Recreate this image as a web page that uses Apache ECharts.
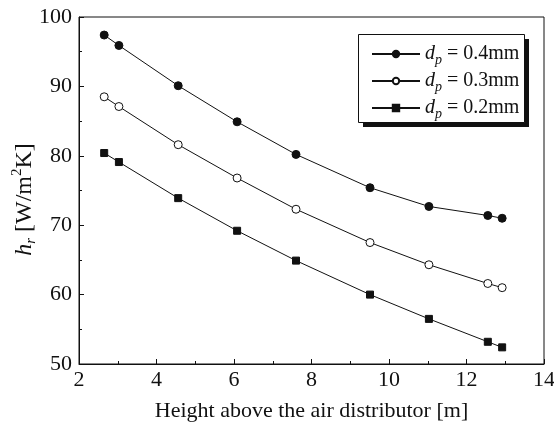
<!DOCTYPE html>
<html>
<head>
<meta charset="utf-8">
<script src="https://cdn.jsdelivr.net/npm/echarts@6/dist/echarts.min.js"></script>
<style>
  html, body { margin: 0; padding: 0; background: #fff; }
  #chart { width: 554px; height: 424px; }
</style>
</head>
<body>
<div id="chart"></div>
<script>
// Height above the air distributor [m]
const heights = [2.65, 3.03, 4.56, 6.08, 7.6, 9.51, 11.03, 12.55, 12.92];

// Heat transfer coefficient h_r [W/m2K] per particle diameter
const hr04 = [97.4, 95.9, 90.1, 84.9, 80.2, 75.4, 72.7, 71.4, 71.0];
const hr03 = [88.5, 87.1, 81.6, 76.8, 72.3, 67.5, 64.3, 61.6, 61.0];
const hr02 = [80.4, 79.1, 73.9, 69.2, 64.9, 60.0, 56.5, 53.2, 52.4];

const seriesNames = ['0.4mm', '0.3mm', '0.2mm'];

const FONT = 'Liberation Serif';
const INK = '#111';

function pairs(xs, ys) {
  return xs.map((x, i) => [x, ys[i]]);
}

const chart = echarts.init(document.getElementById('chart'), null, { renderer: 'canvas' });

const lineStyle = { color: INK, width: 1 };

chart.setOption({
  animation: false,
  backgroundColor: '#fff',
  textStyle: { fontFamily: FONT, color: INK },
  grid: {
    left: 79, right: 10, top: 17, bottom: 60,
    containLabel: false, outerBoundsMode: 'none',
    show: true, borderColor: INK, borderWidth: 1, backgroundColor: 'transparent'
  },
  // legend frame with its drop shadow
  graphic: [
    {
      type: 'rect', z: 3, silent: true,
      shape: { x: 363, y: 39, width: 166, height: 88 },
      style: { fill: INK }
    },
    {
      type: 'rect', z: 4, silent: true,
      shape: { x: 358.5, y: 34.5, width: 166, height: 88 },
      style: { fill: '#fff', stroke: INK, lineWidth: 1 }
    }
  ],
  legend: {
    orient: 'vertical',
    left: 358, top: 34, z: 6,
    padding: [7, 4, 4, 13],
    itemWidth: 48, itemHeight: 8, itemGap: 1,
    data: seriesNames,
    formatter: function (name) {
      return '{d|d}{p|p}{t| = ' + name + '}';
    },
    textStyle: {
      fontFamily: FONT, fontSize: 20, color: INK,
      rich: {
        d: { fontFamily: FONT, fontStyle: 'italic', fontSize: 20, color: INK, lineHeight: 14 },
        p: { fontFamily: FONT, fontStyle: 'italic', fontSize: 14, color: INK, padding: [12, 0, 0, 0], lineHeight: 14 },
        t: { fontFamily: FONT, fontSize: 20, color: INK, lineHeight: 14 }
      }
    }
  },
  xAxis: {
    type: 'value',
    min: 2, max: 14, interval: 2,
    name: 'Height above the air distributor [m]',
    nameLocation: 'middle', nameGap: 36,
    nameTextStyle: { fontFamily: FONT, fontSize: 22, color: INK },
    axisLine: { show: true, lineStyle: { color: INK, width: 1 } },
    axisTick: { show: true, inside: true, length: 5, lineStyle: { color: INK } },
    minorTick: { show: true, splitNumber: 2, length: 3, lineStyle: { color: INK } },
    splitLine: { show: false },
    axisLabel: { fontFamily: FONT, fontSize: 22, color: INK, margin: 5 }
  },
  yAxis: {
    type: 'value',
    min: 50, max: 100, interval: 10,
    name: '{h|h}{r|r}{t| [W/m}{s|2}{t|K]}',
    nameLocation: 'middle', nameGap: 46, nameRotate: 90,
    nameMoveOverlap: false,
    nameTextStyle: {
      fontFamily: FONT, fontSize: 24, color: INK,
      padding: [0, 18, 0, 0],
      rich: {
        h: { fontFamily: FONT, fontStyle: 'italic', fontSize: 24, color: INK, lineHeight: 16 },
        r: { fontFamily: FONT, fontStyle: 'italic', fontSize: 15, color: INK, padding: [13, 0, 0, 0], lineHeight: 14 },
        t: { fontFamily: FONT, fontSize: 24, color: INK, lineHeight: 16 },
        s: { fontFamily: FONT, fontSize: 15, color: INK, padding: [0, 0, 16, 0], lineHeight: 14 }
      }
    },
    axisLine: { show: true, lineStyle: { color: INK, width: 1 } },
    axisTick: { show: true, inside: true, length: 5, lineStyle: { color: INK } },
    minorTick: { show: true, splitNumber: 2, length: 3, lineStyle: { color: INK } },
    splitLine: { show: false },
    axisLabel: { fontFamily: FONT, fontSize: 22, color: INK, margin: 7 }
  },
  series: [
    {
      name: seriesNames[0], type: 'line',
      data: pairs(heights, hr04),
      symbol: 'circle', symbolSize: 8,
      lineStyle: lineStyle,
      itemStyle: { color: INK, borderColor: INK, borderWidth: 1 }
    },
    {
      name: seriesNames[1], type: 'line',
      data: pairs(heights, hr03),
      symbol: 'circle', symbolSize: 8,
      lineStyle: lineStyle,
      itemStyle: { color: '#fff', borderColor: INK, borderWidth: 1 }
    },
    {
      name: seriesNames[2], type: 'line',
      data: pairs(heights, hr02),
      symbol: 'rect', symbolSize: 7,
      lineStyle: lineStyle,
      itemStyle: { color: INK, borderColor: INK, borderWidth: 1 }
    }
  ]
});
</script>
</body>
</html>
